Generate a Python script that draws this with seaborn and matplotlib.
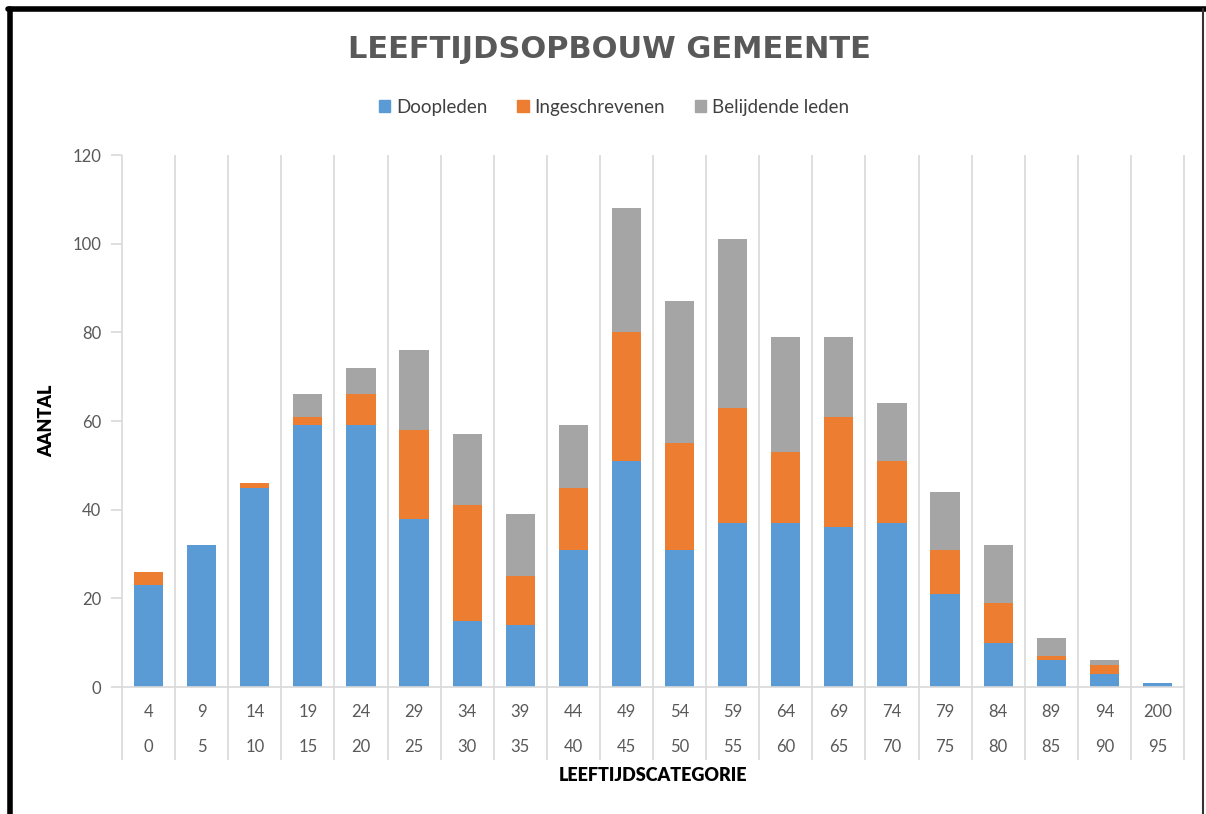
import numpy as np
import pandas as pd
import seaborn as sns
import matplotlib.pyplot as plt
from matplotlib.lines import Line2D
from matplotlib.patches import Patch

# leeftijdscategorieen (ondergrens / bovengrens)
lower = [0, 5, 10, 15, 20, 25, 30, 35, 40, 45, 50, 55, 60, 65, 70, 75, 80, 85, 90, 95]
upper = [4, 9, 14, 19, 24, 29, 34, 39, 44, 49, 54, 59, 64, 69, 74, 79, 84, 89, 94, 200]

doopleden = [23, 32, 45, 59, 59, 38, 15, 14, 31, 51, 31, 37, 37, 36, 37, 21, 10, 6, 3, 1]
ingeschrevenen = [3, 0, 1, 2, 7, 20, 26, 11, 14, 29, 24, 26, 16, 25, 14, 10, 9, 1, 2, 0]
belijdende_leden = [0, 0, 0, 5, 6, 18, 16, 14, 14, 28, 32, 38, 26, 18, 13, 13, 13, 4, 1, 0]

BLUE = '#5B9BD5'
ORANGE = '#ED7D31'
GREY = '#A5A5A5'
GRID = '#D9D9D9'
TEXT = '#595959'

sns.set_theme(style='white')
plt.rcParams['font.family'] = ['Lato', 'DejaVu Sans']

df = pd.DataFrame({
    'cat': [f'{l}-{u}' for l, u in zip(lower, upper)],
    'doop': doopleden,
    'ing': ingeschrevenen,
    'bel': belijdende_leden,
})
df['doop_ing'] = df['doop'] + df['ing']
df['totaal'] = df['doop_ing'] + df['bel']

W, H = 1206, 814
fig = plt.figure(figsize=(W / 100, H / 100), dpi=100)
ax = fig.add_axes([122 / W, 1 - 687 / H, (1184 - 122) / W, (687 - 155) / H])

# stacked bars: draw cumulative totals from back to front
bar_kw = dict(saturation=1, width=0.55, linewidth=0, edgecolor='none', ax=ax)
sns.barplot(df, x='cat', y='totaal', color=GREY, **bar_kw)
sns.barplot(df, x='cat', y='doop_ing', color=ORANGE, **bar_kw)
sns.barplot(df, x='cat', y='doop', color=BLUE, **bar_kw)

ax.set_xlim(-0.5, len(lower) - 0.5)
ax.set_ylim(0, 120)
ax.set_yticks(range(0, 121, 20))

# vertical separators, running down through the label rows
ax.vlines(np.arange(len(lower) + 1) - 0.5, -0.137, 1, transform=ax.get_xaxis_transform(),
          clip_on=False, color=GRID, lw=1.2, zorder=0)

sns.despine(ax=ax, left=True, top=True, right=True)
ax.spines['bottom'].set_color(GRID)
ax.spines['bottom'].set_linewidth(1.2)

ax.tick_params(axis='x', length=0, labelbottom=False)
ax.tick_params(axis='y', left=True, length=8, width=1.2, color=GRID,
               labelcolor=TEXT, labelsize=12, pad=7)

# two-row category labels
for i, (u, l) in enumerate(zip(upper, lower)):
    ax.text(i, -0.047, str(u), transform=ax.get_xaxis_transform(), ha='center', va='center',
            fontsize=12, color=TEXT)
    ax.text(i, -0.113, str(l), transform=ax.get_xaxis_transform(), ha='center', va='center',
            fontsize=12, color=TEXT)

ax.set_xlabel('LEEFTIJDSCATEGORIE', fontsize=13, fontweight='heavy', color='black')
ax.xaxis.set_label_coords(0.5, -0.150)
ax.set_ylabel('AANTAL', fontsize=13, fontweight='heavy', color='black')
ax.yaxis.set_label_coords(-0.063, 0.5)

fig.text(609 / W, 1 - 50 / H, 'LEEFTIJDSOPBOUW GEMEENTE', ha='center', va='center',
         fontsize=22, fontweight='bold', color=TEXT, family='DejaVu Sans')

handles = [Patch(color=BLUE, label='Doopleden'),
           Patch(color=ORANGE, label='Ingeschrevenen'),
           Patch(color=GREY, label='Belijdende leden')]
fig.legend(handles=handles, loc='center', bbox_to_anchor=(614 / W, 1 - 107 / H), ncol=3,
           frameon=False, fontsize=13.5, handlelength=0.6, handleheight=0.6,
           handletextpad=0.3, columnspacing=1.6, labelcolor='#404040')

# black frame around the chart
fig.add_artist(Line2D([10 / W, 10 / W], [0, 1 - 9 / H], transform=fig.transFigure, color='black', lw=4))
fig.add_artist(Line2D([8 / W, 1], [1 - 9 / H, 1 - 9 / H], transform=fig.transFigure, color='black', lw=4))
fig.add_artist(Line2D([1203 / W, 1203 / W], [0, 1 - 9 / H], transform=fig.transFigure, color='#333333', lw=1.5))

fig.savefig('out.png', dpi=100)
